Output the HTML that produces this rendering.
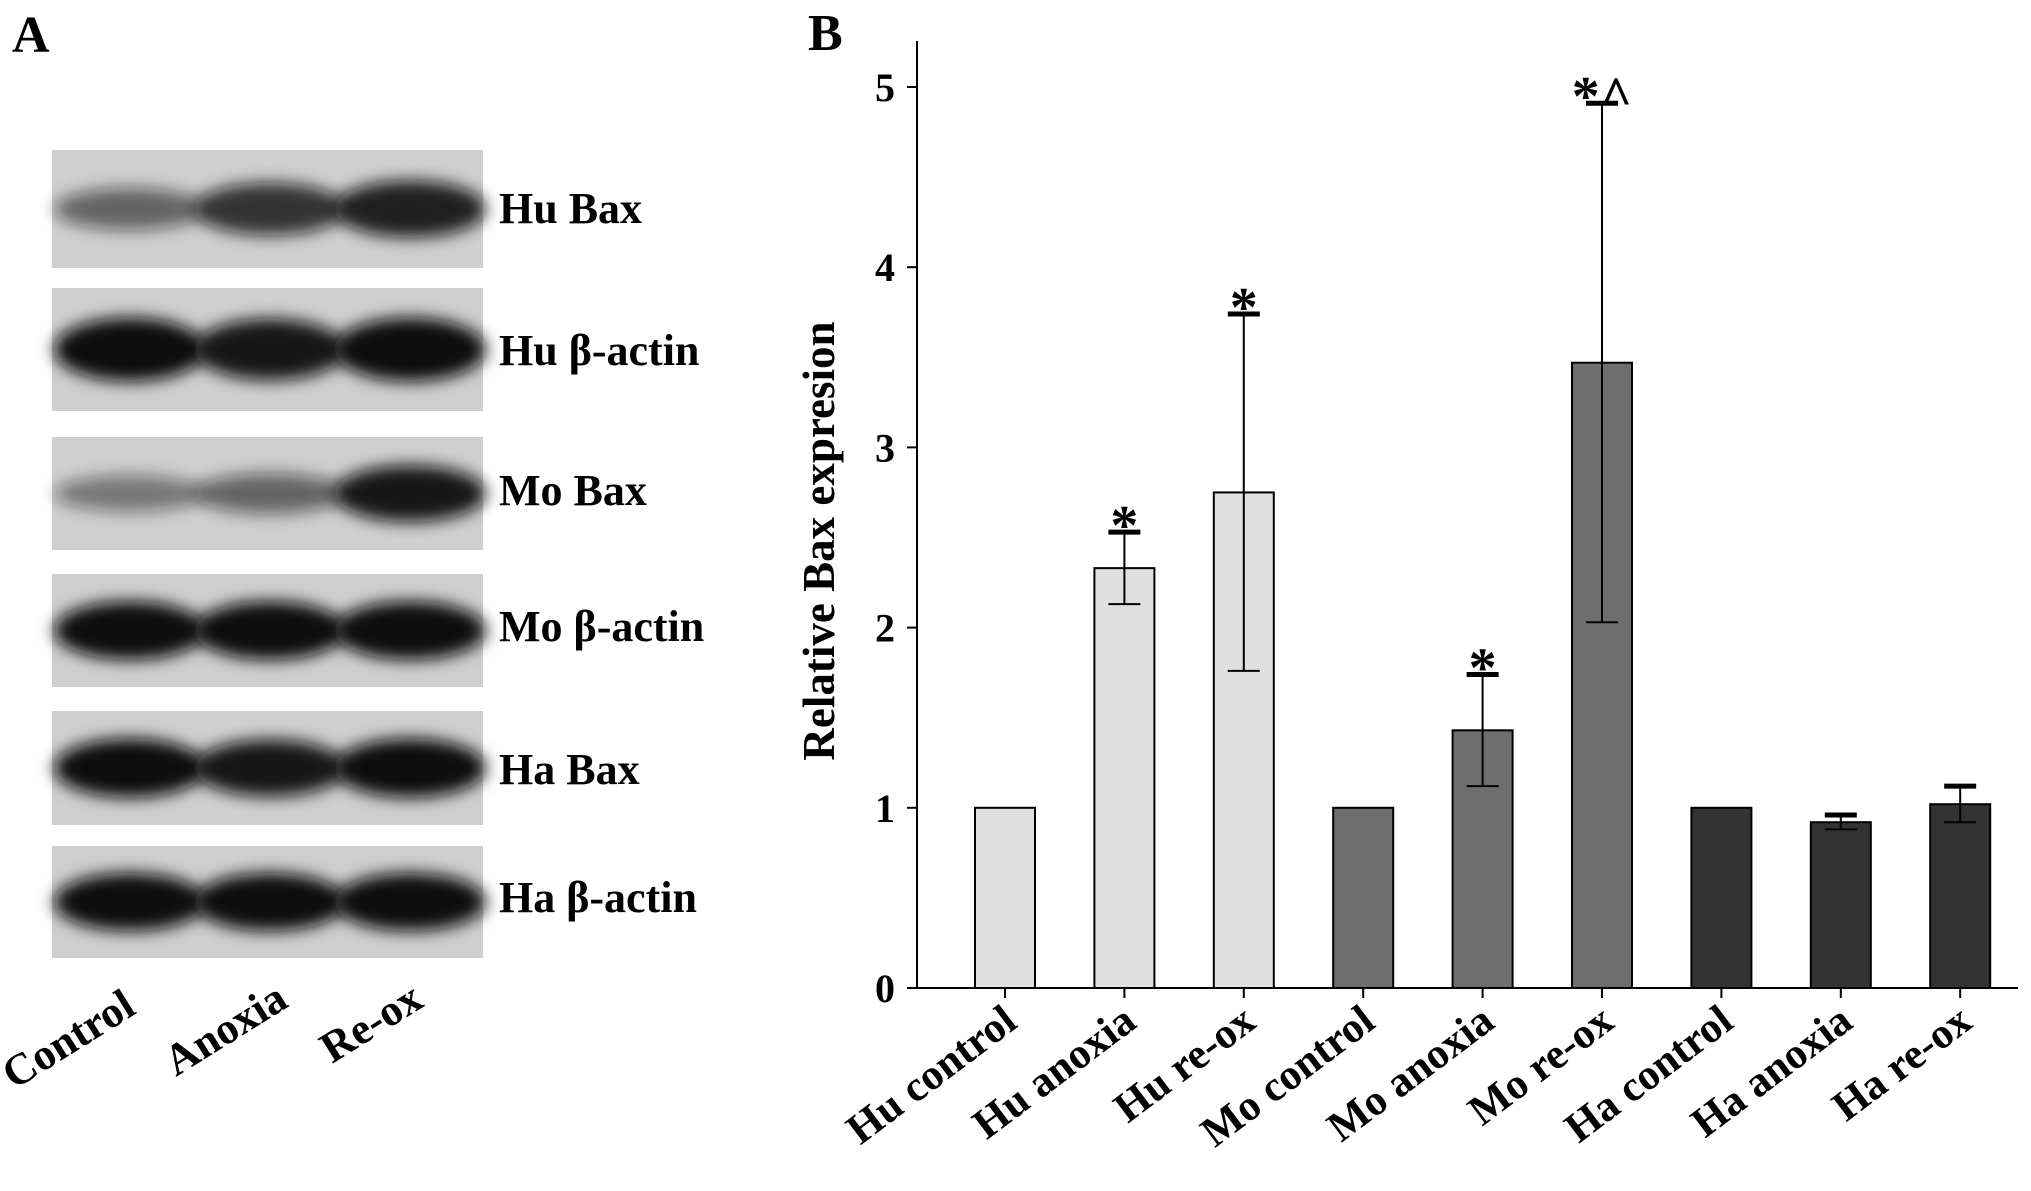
<!DOCTYPE html>
<html><head><meta charset="utf-8"><style>
html,body{margin:0;padding:0;background:#fff;}
svg{display:block;font-family:"Liberation Serif",serif;font-weight:bold;}
</style></head><body>
<svg width="2031" height="1191" viewBox="0 0 2031 1191" xmlns="http://www.w3.org/2000/svg">
<defs>
<filter id="bl" x="-20%" y="-50%" width="140%" height="200%"><feGaussianBlur stdDeviation="8"/></filter>
</defs>
<text x="12" y="52" font-size="52">A</text>
<g id="blots"></g>
<text x="808" y="50" font-size="52">B</text>
<g id="chart"></g>
</svg>
<script>
const NS="http://www.w3.org/2000/svg";
function mk(tag,attrs,parent){const e=document.createElementNS(NS,tag);for(const k in attrs)e.setAttribute(k,attrs[k]);parent.appendChild(e);return e;}

// ---- Panel A blots ----
const blotNames=["Hu Bax","Hu β-actin","Mo Bax","Mo β-actin","Ha Bax","Ha β-actin"];
const blotIntensity=[[0.55,0.8,0.9],[1,0.95,1],[0.45,0.55,0.95],[1,1,1],[1,0.95,1],[1,1,1]];
const laneLabels=["Control","Anoxia","Re-ox"];
const rowTop=[150,288,437,574,711,846], rowBot=[268,411,550,687,825,958], rowBase=[223,365,505,641,784,912];
const blots=document.getElementById('blots');
blotNames.forEach((n,i)=>{
  const g=mk('g',{},blots);
  
  
  mk('rect',{x:52,y:rowTop[i],width:431,height:rowBot[i]-rowTop[i],fill:'#cfcfcf'},g);
  const cy=(rowTop[i]+rowBot[i])/2;
  blotIntensity[i].forEach((v,j)=>{
    const cx=52+78+j*140;
    const ry=(rowBot[i]-rowTop[i])*0.2*(0.4+v*0.9);
    mk('ellipse',{cx:cx,cy:cy,rx:76,ry:ry,fill:'#0a0a0a',opacity:Math.min(1,v),filter:'url(#bl)'},g);
  });
  const t=mk('text',{x:499,y:rowBase[i],'font-size':44},blots);
  t.textContent=n;
  
  
});
const laneX=[14,176,332], laneY=[1090,1077,1064];
laneLabels.forEach((l,j)=>{
  const t=mk('text',{x:laneX[j],y:laneY[j],'font-size':44,transform:`rotate(-32 ${laneX[j]} ${laneY[j]})`},blots);
  t.textContent=l;
  
  
});

// ---- Panel B chart ----
const categories=["Hu control","Hu anoxia","Hu re-ox","Mo control","Mo anoxia","Mo re-ox","Ha control","Ha anoxia","Ha re-ox"];
const values=[1,2.33,2.75,1,1.43,3.47,1,0.92,1.02];
const errors=[0,0.2,0.99,0,0.31,1.44,0,0.04,0.1];
const marks=["","*","*","","*","*^","","",""];
const yTicks=[0,1,2,3,4,5];
const fills=["#e0e0e0","#e0e0e0","#e0e0e0","#6e6e6e","#6e6e6e","#6e6e6e","#333","#333","#333"];
const X0=917, X1=2018, Y0=988, Y5=87;
const yScale=v=>Y0-(Y0-Y5)*v/5;
const xScale=i=>1005+i*119.4;
const BW=60;
const ch=document.getElementById('chart');
const ax=mk('line',{x1:X0,y1:41,x2:X0,y2:Y0,stroke:'#000','stroke-width':2},ch);

const xa=mk('line',{x1:X0,y1:Y0,x2:X1,y2:Y0,stroke:'#000','stroke-width':2},ch);

yTicks.forEach(v=>{
  const y=yScale(v);
  mk('line',{x1:X0-10,y1:y,x2:X0,y2:y,stroke:'#000','stroke-width':2},ch);
  const t=mk('text',{x:X0-22,y:y+14,'font-size':40,'text-anchor':'end'},ch);
  t.textContent=v;
  
  
});
const yt=mk('text',{x:0,y:0,'font-size':45,'text-anchor':'middle',transform:`translate(834 541) rotate(-90)`},ch);
yt.textContent="Relative Bax expresion";


categories.forEach((c,i)=>{
  const cx=xScale(i), top=yScale(values[i]);
  const r=mk('rect',{x:cx-BW/2,y:top,width:BW,height:Y0-top,fill:fills[i],stroke:'#000','stroke-width':2},ch);
  
  
  mk('line',{x1:cx,y1:Y0,x2:cx,y2:Y0+10,stroke:'#000','stroke-width':2},ch);
  if(errors[i]>0){
    const hi=yScale(values[i]+errors[i]), lo=yScale(values[i]-errors[i]);
    const eg=mk('g',{stroke:'#000','stroke-width':2},ch);
    
    
    mk('line',{x1:cx,y1:hi,x2:cx,y2:lo},eg);
    mk('line',{x1:cx-16,y1:hi,x2:cx+16,y2:hi,'stroke-width':5},eg);
    mk('line',{x1:cx-16,y1:lo,x2:cx+16,y2:lo},eg);
  }
  if(marks[i]){
    const hi=yScale(values[i]+errors[i]);
    const t=mk('text',{x:cx,y:hi+12,'font-size':56,'text-anchor':'middle'},ch);
    t.textContent=marks[i];
    
    
  }
  const lx=cx+14, ly=Y0+38;
  const t=mk('text',{x:lx,y:ly,'font-size':43,'text-anchor':'end',transform:`rotate(-37 ${lx} ${ly})`},ch);
  t.textContent=c;
  
  
});
</script>
</body></html>
